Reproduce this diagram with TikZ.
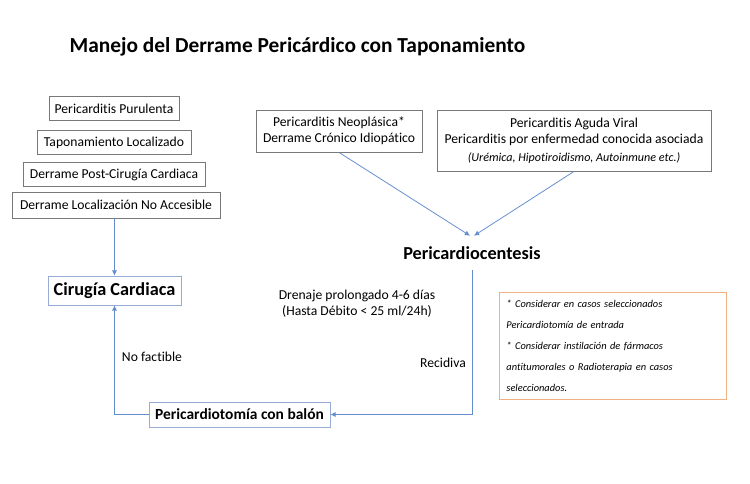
\documentclass[tikz,border=0pt]{standalone}
\usepackage{fontspec}
\setmainfont{Carlito}[Ligatures=NoCommon]
\usetikzlibrary{arrows.meta,positioning}
\definecolor{LineBlue}{RGB}{100,140,205}
\definecolor{BoxGray}{RGB}{120,120,120}
\definecolor{BoxBlue}{RGB}{150,172,212}
\definecolor{NoteOrange}{RGB}{240,178,130}
\tikzset{
  >=Latex,
  box/.style={draw=BoxGray,line width=0.6pt,align=center,font=\fontsize{9.7}{11.6}\selectfont,inner sep=0pt},
  cause/.style={box,minimum height=0.6cm},
  target/.style={box,draw=BoxBlue,font=\bfseries\fontsize{11}{14}\selectfont},
  note/.style={draw=NoteOrange,line width=0.6pt,align=left,font=\itshape\fontsize{7.4}{14.9}\selectfont,inner xsep=5pt,inner ysep=0pt,anchor=north west},
  label/.style={font=\fontsize{9.7}{11.6}\selectfont,align=center},
  flow/.style={-{Latex[length=1.3mm,width=1.3mm]},line width=0.55pt,draw=LineBlue}
}
\begin{document}
\begin{tikzpicture}[x=0.025cm,y=-0.025cm]
  \useasboundingbox (0,0) rectangle (750,483);
  \node[font=\bfseries\fontsize{15.2}{18}\selectfont] (title) at (297.5,47) {Manejo del Derrame Pericárdico con Taponamiento};
  % left column
  \node[cause,minimum width=130*0.025cm] (pur) at (114,108.5) {Pericarditis Purulenta};
  \node[cause,minimum width=154*0.025cm] (tap) at (114,142.5) {Taponamiento Localizado};
  \node[cause,minimum width=182*0.025cm] (post) at (114,174.5) {Derrame Post-Cirugía Cardiaca};
  \node[cause,minimum width=208*0.025cm,minimum height=26*0.025cm] (loc) at (116,205) {Derrame Localización No Accesible};
  \node[target,font=\bfseries\fontsize{13}{16}\selectfont,minimum width=133*0.025cm,minimum height=29*0.025cm] (cir) at (114.5,290.5) {Cirugía Cardiaca};
  % right column
  \node[box,minimum width=166*0.025cm,minimum height=42*0.025cm] (neo) at (339,131) {Pericarditis Neoplásica*\\Derrame Crónico Idiopático};
  \node[box,minimum width=274*0.025cm,minimum height=61*0.025cm] (viral) at (574,140.5) {Pericarditis Aguda Viral\\Pericarditis por enfermedad conocida asociada\\[1pt]{\itshape\fontsize{8.6}{10}\selectfont(Urémica, Hipotiroidismo, Autoinmune etc.)}};
  \node[font=\bfseries\fontsize{13}{16}\selectfont,minimum height=34*0.025cm,inner sep=0pt] (pcs) at (472,253) {Pericardiocentesis};
  \node[label] (dren) at (357,304) {Drenaje prolongado 4-6 días\\(Hasta Débito < 25 ml/24h)};
  \node[target,minimum width=181*0.025cm,minimum height=25*0.025cm] (bal) at (239.5,414.5) {Pericardiotomía con balón};
  \node[label] (nof) at (152,357) {No factible};
  \node[label] (rec) at (443,363) {Recidiva};
  \node[note,text width=213*0.025cm,minimum height=107*0.025cm] (notes) at (499,292) {* Considerar en casos seleccionados\\Pericardiotomía de entrada\\{}* Considerar instilación de fármacos\\antitumorales o Radioterapia en casos\\seleccionados.};
  % connectors
  \draw[flow] (cir.north |- loc.south) -- (cir.north);
  \draw[flow] (neo.south) -- ([xshift=-2*0.025cm]pcs.north);
  \draw[flow] (viral.south) -- ([xshift=2*0.025cm]pcs.north);
  \draw[flow] (pcs.south) |- (bal.east);
  \draw[flow] (bal.west) -| (cir.south);
\end{tikzpicture}
\end{document}
